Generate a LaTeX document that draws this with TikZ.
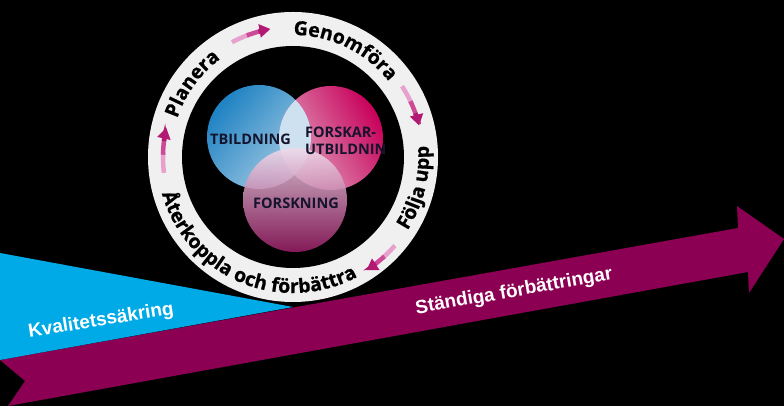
\documentclass[tikz,border=0pt]{standalone}
\usepackage{fontspec}
\newfontfamily\ringfont{Open Sans}[BoldFeatures={FakeBold=0.7}]
\newfontfamily\vennfont{Open Sans}
\newfontfamily\arialfont{Liberation Sans}
\usetikzlibrary{arrows.meta,decorations.text,calc}
\definecolor{ribbonc}{RGB}{139,0,82}
\definecolor{cyanq}{RGB}{0,170,230}
\definecolor{ringw}{RGB}{240,240,240}
\definecolor{blueA}{RGB}{30,130,195}
\definecolor{blueB}{RGB}{170,205,228}
\definecolor{redA}{RGB}{200,0,90}
\definecolor{redB}{RGB}{225,170,195}
\definecolor{botA}{RGB}{240,218,234}
\definecolor{botM}{RGB}{200,120,165}
\definecolor{botB}{RGB}{150,30,100}
\definecolor{lensc}{RGB}{205,225,240}
\definecolor{venntext}{RGB}{20,20,45}
\definecolor{arrL}{RGB}{232,160,205}
\definecolor{arrM}{RGB}{205,75,150}
\definecolor{arrD}{RGB}{178,25,115}
\newcommand\rfmt{\ringfont\bfseries\fontsize{19.5}{19.5}\selectfont}
\newcommand\cyclearrow[3]{%
  \draw[shift={(c)}, line width=4.5pt, color=arrL] (#2:#1) arc[start angle=#2, end angle={#2+0.45*(#3-#2)}, radius=#1];
  \draw[shift={(c)}, line width=4.5pt, color=arrM] ({#2+0.4*(#3-#2)}:#1) arc[start angle={#2+0.4*(#3-#2)}, end angle={#2+0.75*(#3-#2)}, radius=#1];
  \draw[shift={(c)}, line width=4.5pt, color=arrD, -{Triangle[width=13pt,length=11pt]}] ({#2+0.7*(#3-#2)}:#1) arc[start angle={#2+0.7*(#3-#2)}, end angle=#3, radius=#1];
}
\tikzset{
  ribbontext/.style={text=white, font=\arialfont\bfseries\fontsize{19}{19}\selectfont, inner sep=0pt},
  venn/.style={text=venntext, font=\vennfont\bfseries\fontsize{14.5}{16}\selectfont, inner sep=0pt},
  ringtext/.style={decorate, decoration={text along path, text align=center, text={#1}}}
}
\begin{document}
\begin{tikzpicture}[x=1pt,y=1pt]
\useasboundingbox (0,0) rectangle (784,406);
\fill[black] (0,0) rectangle (784,406);
% ribbon arrow
\fill[ribbonc] (0,46) -- (738,178) -- (737,200) -- (784,167) -- (749,113) -- (748,134) -- (8,0) -- (25,25) -- cycle;
% cyan wedge
\fill[cyanq] (0,153) -- (293,99) -- (0,46) -- cycle;
\node[ribbontext, rotate=9] (kval) at (101,85) {Kvalitetssäkring};
\node[ribbontext, rotate=10] (stand) at (514,114) {Ständiga förbättringar};
% ring
\coordinate (c) at (293,249);
\fill[ringw] (c) circle (145);
\fill[black] (c) circle (111);
% venn circles
\coordinate (cb) at (259,269);
\coordinate (cr) at (331,268);
\coordinate (cf) at (295,206);
\shade[top color=blueA, bottom color=blueB, shading angle=50] (cb) circle (52);
\shade[top color=redA, bottom color=redB, shading angle=-60] (cr) circle (52);
\begin{scope}
  \clip (cb) circle (52);
  \fill[lensc] (cr) circle (52);
\end{scope}
\shade[top color=botA, middle color=botM, bottom color=botB, opacity=0.88] (cf) circle (52);
\node[venn, anchor=west] (utb) at (210,267) {TBILDNING};
\node[venn, anchor=west] (fk1) at (305,274) {FORSKAR-};
\node[venn, anchor=west] (fk2) at (305,257) {UTBILDNIN};
\node[venn] (fsk) at (296,203) {FORSKNING};
% ring texts
\path[shift={(c)}, ringtext={|\rfmt|Planera}] (175:122) arc[start angle=175, end angle=113, radius=122];
\path[shift={(c)}, ringtext={|\rfmt|Genomföra}] (100:122) arc[start angle=100, end angle=28, radius=122];
\path[shift={(c)}, ringtext={|\rfmt|Följa upp}] (-50:136) arc[start angle=-50, end angle=22, radius=136];
\path[shift={(c)}, ringtext={|\rfmt|Återkoppla och förbättra}] (175:136) arc[start angle=175, end angle=319, radius=136];
% cycle arrows
\cyclearrow{130}{118}{100}
\cyclearrow{130}{33}{14}
\cyclearrow{135}{-41}{-57}
\cyclearrow{130}{187}{167}
\end{tikzpicture}
\end{document}
